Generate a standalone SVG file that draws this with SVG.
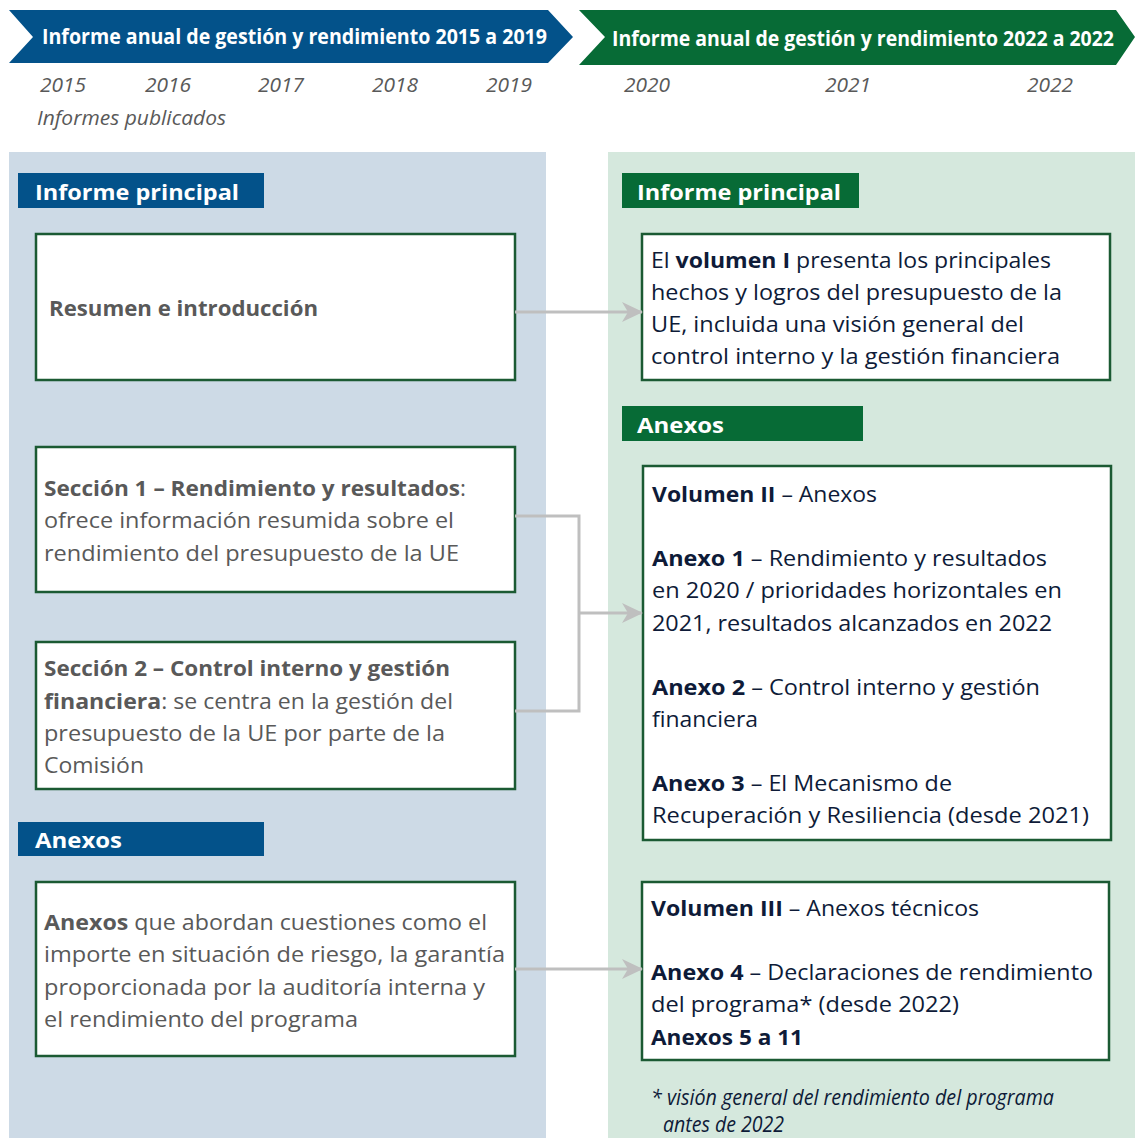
<svg xmlns="http://www.w3.org/2000/svg" width="1135" height="1138" viewBox="0 0 1135 1138">
<defs>
<style>
.t{font-family:"Open Sans","Noto Sans","Liberation Sans",sans-serif;font-size:22px;}
.g{fill:#595959;}
.n{fill:#0E1B38;}
.b{font-weight:bold;}
.w{fill:#ffffff;font-weight:bold;}
.yr{font-family:"Open Sans","Noto Sans","Liberation Sans",sans-serif;font-size:20px;font-style:italic;fill:#595959;}
.box{fill:#ffffff;stroke:#1B5A33;stroke-width:2.5;}
.con{fill:none;stroke:#BFBFBF;stroke-width:3;}
</style>
<marker id="ah" markerUnits="userSpaceOnUse" markerWidth="22" markerHeight="22" viewBox="0 0 22 22" refX="20" refY="11" orient="auto">
<path d="M0,1 L21,11 L0,21 L6,11 z" fill="#BFBFBF"/>
</marker>
</defs>
<rect width="1135" height="1138" fill="#ffffff"/>

<g id="panels">
<rect x="9" y="152" width="537" height="986" fill="#CDDAE6"/>
<rect x="608" y="152" width="527" height="986" fill="#D5E8DD"/>
</g>

<g id="banner-left">
<polygon points="9,10 548,10 573,37 548,63 9,63 33,37" fill="#03528A"/>
<text class="t w" x="42" y="44" font-size="18.5" textLength="505" lengthAdjust="spacingAndGlyphs">Informe anual de gestión y rendimiento 2015 a 2019</text>
</g>
<g id="banner-right">
<polygon points="579,10 1116,10 1135,37 1116,65 579,65 605,37" fill="#076B36"/>
<text class="t w" x="612" y="46" font-size="18.5" textLength="502" lengthAdjust="spacingAndGlyphs">Informe anual de gestión y rendimiento 2022 a 2022</text>
</g>

<g id="years">
<text class="yr" x="40" y="92" textLength="46" lengthAdjust="spacingAndGlyphs">2015</text>
<text class="yr" x="145" y="92" textLength="46" lengthAdjust="spacingAndGlyphs">2016</text>
<text class="yr" x="258" y="92" textLength="46" lengthAdjust="spacingAndGlyphs">2017</text>
<text class="yr" x="372" y="92" textLength="46" lengthAdjust="spacingAndGlyphs">2018</text>
<text class="yr" x="486" y="92" textLength="46" lengthAdjust="spacingAndGlyphs">2019</text>
<text class="yr" x="624" y="92" textLength="46" lengthAdjust="spacingAndGlyphs">2020</text>
<text class="yr" x="825" y="92" textLength="46" lengthAdjust="spacingAndGlyphs">2021</text>
<text class="yr" x="1027" y="92" textLength="46" lengthAdjust="spacingAndGlyphs">2022</text>
<text class="yr" x="37" y="125" textLength="189" lengthAdjust="spacingAndGlyphs">Informes publicados</text>
</g>

<g id="label-left-principal">
<rect x="18" y="173" width="246" height="35" fill="#03528A"/>
<text class="t w" x="35" y="200" font-size="24" textLength="204" lengthAdjust="spacingAndGlyphs">Informe principal</text>
</g>
<g id="label-right-principal">
<rect x="622" y="173" width="237" height="35" fill="#076B36"/>
<text class="t w" x="637" y="200" font-size="24" textLength="204" lengthAdjust="spacingAndGlyphs">Informe principal</text>
</g>
<g id="label-right-anexos">
<rect x="622" y="406" width="241" height="35" fill="#076B36"/>
<text class="t w" x="637" y="433" font-size="24" textLength="87" lengthAdjust="spacingAndGlyphs">Anexos</text>
</g>
<g id="label-left-anexos">
<rect x="18" y="822" width="246" height="34" fill="#03528A"/>
<text class="t w" x="35" y="848" font-size="24" textLength="87" lengthAdjust="spacingAndGlyphs">Anexos</text>
</g>

<g id="left-resumen">
<rect class="box" x="36" y="234" width="479" height="146"/>
<text class="t g b" x="49" y="316" textLength="269" lengthAdjust="spacingAndGlyphs">Resumen e introducción</text>
</g>

<g id="left-seccion1">
<rect class="box" x="36" y="447" width="479" height="145"/>
<text class="t g" x="44" y="496" textLength="422" lengthAdjust="spacingAndGlyphs"><tspan class="b">Sección 1 – Rendimiento y resultados</tspan>:</text>
<text class="t g" x="44" y="528" textLength="410" lengthAdjust="spacingAndGlyphs">ofrece información resumida sobre el</text>
<text class="t g" x="44" y="561" textLength="415" lengthAdjust="spacingAndGlyphs">rendimiento del presupuesto de la UE</text>
</g>

<g id="left-seccion2">
<rect class="box" x="36" y="642" width="479" height="147"/>
<text class="t g b" x="44" y="676" textLength="406" lengthAdjust="spacingAndGlyphs">Sección 2 – Control interno y gestión</text>
<text class="t g" x="44" y="709" textLength="409" lengthAdjust="spacingAndGlyphs"><tspan class="b">financiera</tspan>: se centra en la gestión del</text>
<text class="t g" x="44" y="741" textLength="401" lengthAdjust="spacingAndGlyphs">presupuesto de la UE por parte de la</text>
<text class="t g" x="44" y="773" textLength="100" lengthAdjust="spacingAndGlyphs">Comisión</text>
</g>

<g id="left-anexos">
<rect class="box" x="36" y="882" width="479" height="174"/>
<text class="t g" x="44" y="930" textLength="443" lengthAdjust="spacingAndGlyphs"><tspan class="b">Anexos</tspan> que abordan cuestiones como el</text>
<text class="t g" x="44" y="962" textLength="461" lengthAdjust="spacingAndGlyphs">importe en situación de riesgo, la garantía</text>
<text class="t g" x="44" y="995" textLength="441" lengthAdjust="spacingAndGlyphs">proporcionada por la auditoría interna y</text>
<text class="t g" x="44" y="1027" textLength="314" lengthAdjust="spacingAndGlyphs">el rendimiento del programa</text>
</g>

<g id="right-volumen1">
<rect class="box" x="642" y="234" width="468" height="146"/>
<text class="t n" x="651" y="268" textLength="400" lengthAdjust="spacingAndGlyphs">El <tspan class="b">volumen I</tspan> presenta los principales</text>
<text class="t n" x="651" y="300" textLength="411" lengthAdjust="spacingAndGlyphs">hechos y logros del presupuesto de la</text>
<text class="t n" x="651" y="332" textLength="373" lengthAdjust="spacingAndGlyphs">UE, incluida una visión general del</text>
<text class="t n" x="651" y="364" textLength="409" lengthAdjust="spacingAndGlyphs">control interno y la gestión financiera</text>
</g>

<g id="right-volumen2">
<rect class="box" x="643" y="466" width="468" height="374"/>
<text class="t n" x="652" y="502" textLength="225" lengthAdjust="spacingAndGlyphs"><tspan class="b">Volumen II</tspan> – Anexos</text>
<text class="t n" x="652" y="566" textLength="395" lengthAdjust="spacingAndGlyphs"><tspan class="b">Anexo 1</tspan> – Rendimiento y resultados</text>
<text class="t n" x="652" y="598" textLength="410" lengthAdjust="spacingAndGlyphs">en 2020 / prioridades horizontales en</text>
<text class="t n" x="652" y="631" textLength="400" lengthAdjust="spacingAndGlyphs">2021, resultados alcanzados en 2022</text>
<text class="t n" x="652" y="695" textLength="388" lengthAdjust="spacingAndGlyphs"><tspan class="b">Anexo 2</tspan> – Control interno y gestión</text>
<text class="t n" x="652" y="727" textLength="106" lengthAdjust="spacingAndGlyphs">financiera</text>
<text class="t n" x="652" y="791" textLength="300" lengthAdjust="spacingAndGlyphs"><tspan class="b">Anexo 3</tspan> – El Mecanismo de</text>
<text class="t n" x="652" y="823" textLength="437" lengthAdjust="spacingAndGlyphs">Recuperación y Resiliencia (desde 2021)</text>
</g>

<g id="right-volumen3">
<rect class="box" x="642" y="882" width="467" height="178"/>
<text class="t n" x="651" y="916" textLength="328" lengthAdjust="spacingAndGlyphs"><tspan class="b">Volumen III</tspan> – Anexos técnicos</text>
<text class="t n" x="651" y="980" textLength="442" lengthAdjust="spacingAndGlyphs"><tspan class="b">Anexo 4</tspan> – Declaraciones de rendimiento</text>
<text class="t n" x="651" y="1012" textLength="308" lengthAdjust="spacingAndGlyphs">del programa* (desde 2022)</text>
<text class="t n b" x="651" y="1045" textLength="152" lengthAdjust="spacingAndGlyphs">Anexos 5 a 11</text>
</g>

<g id="footnote">
<text class="t n" x="651" y="1105" font-size="16" font-style="italic" textLength="403" lengthAdjust="spacingAndGlyphs">* visión general del rendimiento del programa</text>
<text class="t n" x="663" y="1132" font-size="16" font-style="italic" textLength="121" lengthAdjust="spacingAndGlyphs">antes de 2022</text>
</g>

<g id="connectors">
<line class="con" x1="515" y1="312" x2="642" y2="312" marker-end="url(#ah)"/>
<polyline class="con" points="515,516 579,516 579,711 515,711"/>
<line class="con" x1="579" y1="613" x2="642" y2="613" marker-end="url(#ah)"/>
<line class="con" x1="515" y1="969" x2="642" y2="969" marker-end="url(#ah)"/>
</g>
</svg>
